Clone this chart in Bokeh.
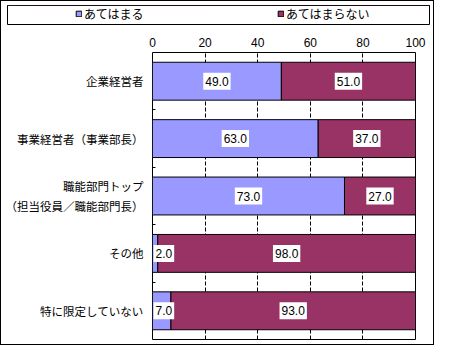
from bokeh.plotting import figure
from bokeh.layouts import column, row
from bokeh.models import (ColumnDataSource, Range1d, FixedTicker, Legend, LegendItem)
from bokeh.core.properties import value
from bokeh.embed import file_html
from bokeh.resources import INLINE

categories = ["企業経営者", "事業経営者（事業部長）", "職能部門トップ\n（担当役員／職能部門長）",
              "その他", "特に限定していない"]
applies = [49.0, 63.0, 73.0, 2.0, 7.0]
not_applies = [51.0, 37.0, 27.0, 98.0, 93.0]
series_names = ["あてはまる", "あてはまらない"]
x_ticks = [0, 20, 40, 60, 80, 100]

JP = "Noto Sans CJK JP"
NUM = "Liberation Sans"
BLUE = "#9999FF"
PURPLE = "#993366"

n = len(categories)
ys = [n - i - 0.5 for i in range(n)]
ends = [a + b for a, b in zip(applies, not_applies)]

src = ColumnDataSource(dict(y=ys, a=applies, end=ends))

# value labels: centred in the segment; narrow segments get a label starting at the axis
wide = dict(x=[], y=[], t=[])
narrow = dict(x=[], y=[], t=[])
for y, a, b in zip(ys, applies, not_applies):
    for left, v in ((0.0, a), (a, b)):
        d = wide if v >= 10 else narrow
        d["x"].append(left + v / 2 if v >= 10 else left)
        d["y"].append(y)
        d["t"].append(f"{v:.1f}")

W = 432
# ---------------- legend strip (its frame is the legend box) ----------------
lg = figure(width=W, height=26, output_backend="svg", toolbar_location=None,
            x_range=Range1d(0, 100), y_range=Range1d(-3, -2),
            min_border_left=6, min_border_right=4, min_border_top=4, min_border_bottom=3)
lg.xaxis.visible = False
lg.yaxis.visible = False
lg.grid.visible = False
lg.outline_line_color = "black"
# same series as the chart; the strip's y range keeps the bars themselves out of view
d1 = lg.hbar(y="y", left=0, right="a", height=0.66, source=src,
             fill_color=BLUE, line_color="black")
d2 = lg.hbar(y="y", left="a", right="end", height=0.66, source=src,
             fill_color=PURPLE, line_color="black")
legend = Legend(items=[LegendItem(label=series_names[0], renderers=[d1], index=0),
                       LegendItem(label=series_names[1], renderers=[d2], index=0)],
                orientation="horizontal", location=(68, 2),
                padding=0, margin=0, spacing=133,
                glyph_width=7, glyph_height=7, label_standoff=2,
                label_width=60, label_height=15,
                label_text_font=JP, label_text_font_size="12px",
                label_text_color="black",
                border_line_color=None, background_fill_alpha=0)
lg.add_layout(legend, "center")

# ---------------- main chart ----------------
p = figure(width=W, height=317, output_backend="svg", toolbar_location=None,
           x_range=Range1d(0, 100), y_range=Range1d(0, n),
           x_axis_location="above",
           min_border_left=151, min_border_right=18, min_border_top=25, min_border_bottom=5)
p.outline_line_color = "black"
p.outline_line_width = 1

p.hbar(y="y", left=0, right="a", height=0.66, source=src,
       fill_color=BLUE, line_color="black", line_width=1)
p.hbar(y="y", left="a", right="end", height=0.66, source=src,
       fill_color=PURPLE, line_color="black", line_width=1)

pad = dict(top=4, bottom=4, left=2, right=2)
p.text(x="x", y="y", text="t", source=ColumnDataSource(wide),
       text_align="center", text_baseline="middle",
       text_font=value(NUM), text_font_size="12px", text_color="black",
       background_fill_color="white", padding=pad)
p.text(x="x", y="y", text="t", source=ColumnDataSource(narrow),
       text_align="left", text_baseline="middle", x_offset=1,
       text_font=value(NUM), text_font_size="12px", text_color="black",
       background_fill_color="white", padding=pad)

xa = p.xaxis[0]
xa.ticker = FixedTicker(ticks=x_ticks)
xa.axis_line_color = None
xa.major_tick_in = 0
xa.major_tick_out = 0
xa.minor_tick_line_color = None
xa.major_label_standoff = 6
xa.major_label_text_font = NUM
xa.major_label_text_font_size = "12px"
xa.major_label_text_color = "black"

p.xgrid.ticker = FixedTicker(ticks=x_ticks[1:-1])
p.xgrid.grid_line_color = "black"
p.xgrid.grid_line_dash = "4 2"
p.ygrid.grid_line_color = None

ya = p.yaxis[0]
ya.ticker = FixedTicker(ticks=ys, minor_ticks=list(range(1, n)))
ya.major_label_overrides = {y: c for y, c in zip(ys, categories)}
ya.axis_line_color = None
ya.major_tick_in = 0
ya.major_tick_out = 0
ya.minor_tick_in = 3
ya.minor_tick_out = 0
ya.minor_tick_line_color = "black"
ya.major_label_standoff = 9
ya.major_label_text_font = JP
ya.major_label_text_font_size = "11.5px"
ya.major_label_text_color = "black"

layout = column(row(lg), p, spacing=0, styles={"border": "1px solid black"})

open("out.html", "w").write(file_html(layout, INLINE))
